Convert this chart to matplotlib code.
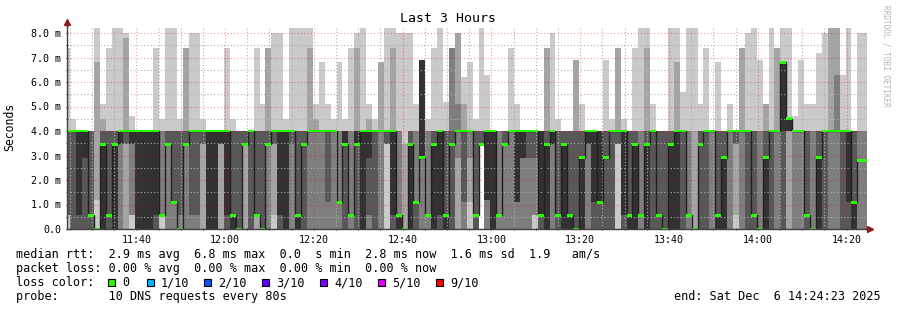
import numpy as np
import matplotlib
matplotlib.use('Agg')
import matplotlib.pyplot as plt
from matplotlib.patches import Rectangle
from matplotlib.ticker import FixedLocator

W, H = 897, 310

# one sample every 80 s, first one is cut by the left edge (11:24:23 start)
first_edge = 43
step = 80
span = 10800

# green median line (ms)
median = [
    4.0, 4.0, 4.0, 4.0, 0.57, 0, 3.45, 0.57, 3.45, 4.0,
    4.0, 4.0, 4.0, 4.0, 4.0, 4.0, 0.57, 3.45, 1.1, 0,
    3.45, 4.0, 4.0, 4.0, 4.0, 4.0, 4.0, 4.0, 0.57, 0,
    3.45, 4.0, 0.57, 0, 3.45, 4.0, 4.0, 4.0, 4.0, 0.57,
    3.45, 4.0, 4.0, 4.0, 4.0, 4.0, 1.1, 3.45, 0.57, 3.45,
    4.0, 4.0, 4.0, 4.0, 4.0, 4.0, 0.57, 0, 3.45, 1.1,
    2.9, 0.57, 3.45, 4.0, 0.57, 3.45, 4.0, 4.0, 4.0, 0.57,
    3.45, 4.0, 4.0, 0.57, 3.45, 4.0, 4.0, 4.0, 4.0, 4.0,
    0.57, 3.45, 4.0, 0.57, 3.45, 0.57, 0, 2.9, 4.0, 4.0,
    1.1, 2.9, 4.0, 4.0, 4.0, 0.57, 3.45, 0.57, 3.45, 4.0,
    0.57, 0, 3.45, 4.0, 4.0, 0.57, 0, 3.45, 4.0, 4.0,
    0.57, 2.9, 4.0, 4.0, 4.0, 4.0, 0.57, 0, 2.9, 4.0,
    4.0, 6.8, 4.5, 4.0, 4.0, 0.57, 0, 2.9, 4.0, 4.0,
    4.0, 4.0, 4.0, 1.1, 2.8, 2.8,
]

# 10 sorted ping times per sample (ms), used for the smoke
pings = [
    (0, .57, .57, .57, 4, 4, 4, 4, 4, 7.4),
    (0, 0, 0, 0, 4, 4, 4, 4, 4, 4.5),
    (0, 0, 0, 0, .57, 4, 4, 4, 4, 4),
    (0, 0, 0, 0, 2.9, 4, 4, 4, 4, 4),
    (0, 0, 0, 0, 4, 4, 4, 4, 4, 4),
    (0, 1.2, 6.8, 6.8, 6.8, 6.8, 6.8, 6.8, 6.8, 8.2),
    (0, 0, 0, 0, 0, 3.45, 4, 4, 4.5, 5.1),
    (0, 0, 0, 0, 4, 4, 4, 4, 4, 7.4),
    (0, 0, 0, 0, 0, 3.45, 4, 4, 4, 8.2),
    (0, 0, 0, 3.45, 3.45, 4, 4, 4, 4, 8.2),
    (0, 0, 3.45, 3.45, 4, 4, 4, 4, 7.8, 8.0),
    (0, .57, .57, 3.45, 3.45, 4, 4, 4, 4, 4.6),
    (0, 0, 0, 0, 0, 4, 4, 4, 4, 4),
    (0, 0, 0, 0, 0, 4, 4, 4, 4, 4),
    (0, 0, 0, 0, 0, 4, 4, 4, 4, 4),
    (0, 0, 0, 0, .57, 4, 4, 4, 4, 7.4),
    (0, .57, .57, 4, 4, 4, 4, 4, 4, 4.5),
    (0, 0, 0, 3.45, 4, 4, 4, 4, 4, 8.2),
    (0, 0, 0, 1.1, 4, 4, 4, 4, 4, 8.2),
    (0, 0, 0, .57, 4, 4, 4, 4, 4, 4.5),
    (0, 0, 0, 3.45, 4, 4, 4, 4, 7.4, 7.4),
    (0, 0, 0, .57, 4, 4, 4, 4, 4, 8.0),
    (0, 0, 0, .57, 4, 4, 4, 4, 4, 8.0),
    (0, 0, 3.45, 3.45, 4, 4, 4, 4, 4, 4.5),
    (0, 0, 0, 0, 0, 4, 4, 4, 4, 4),
    (0, 0, 0, 0, 0, 4, 4, 4, 4, 4),
    (0, 0, 3.45, 3.45, 3.45, 4, 4, 4, 4, 4),
    (0, 0, 0, 0, .57, 4, 4, 4, 4, 7.4),
    (0, 0, 0, 0, 0, .57, 4, 4, 4, 4.5),
    (0, 0, 0, 0, 4, 4, 4, 4, 4, 4),
    (0, 0, 3.45, 3.45, 4, 4, 4, 4, 4, 4),
    (0, 0, 0, 0, 4, 4, 4, 4, 4, 4),
    (0, 0, .57, .57, 4, 4, 4, 4, 4, 7.4),
    (0, 0, 0, 0, 4, 4, 4, 4, 4, 5.1),
    (0, 0, 0, 3.45, 4, 4, 4, 4, 7.4, 7.4),
    (0, .57, 3.45, 3.45, 4, 4, 4, 4, 4, 8.0),
    (0, 0, 0, 0, .57, 4, 4, 4, 4, 8.0),
    (0, 0, 0, 0, 0, 4, 4, 4, 4, 4.5),
    (0, 0, 0, 3.45, 4, 4, 4, 4, 4, 8.2),
    (0, 0, 0, 0, 0, .57, 4, 4, 4, 8.2),
    (0, 0, 0, 0, 3.45, 3.45, 4, 4, 4, 8.2),
    (0, 0, 0, 4, 4, 4, 4, 4, 7.4, 8.2),
    (0, 0, 0, 4, 4, 4, 4, 4, 4.5, 5.1),
    (0, 0, 0, 4, 4, 4, 4, 4, 4, 6.8),
    (0, 0, 0, 1.1, 4, 4, 4, 4, 4, 5.1),
    (0, 0, 0, 4, 4, 4, 4, 4, 4, 4.5),
    (0, 0, 0, 4, 4, 4, 4, 4, 4, 6.8),
    (0, 0, 0, 0, 3.45, 4, 4, 4, 4, 4.5),
    (0, 0, 0, 4, 4, 4, 4, 4, 4, 7.4),
    (0, 0, 0, 0, 3.45, 4, 4, 4, 7.4, 8.0),
    (0, 0, 0, 0, 0, 4, 4, 4, 4, 8.2),
    (0, 0, 0, .57, 2.9, 4, 4, 4, 4.5, 5.1),
    (0, 0, 0, 0, 4, 4, 4, 4, 4, 4.5),
    (0, 0, 0, 4, 4, 4, 4, 4, 6.8, 6.8),
    (0, 3.45, 3.45, 3.45, 4, 4, 4, 4, 4, 8.2),
    (0, 0, 0, 0, .57, 4, 4, 4, 7.4, 8.2),
    (0, 0, 0, 0, 0, .57, .57, 4, 4, 8.0),
    (0, 0, 0, 0, 0, 0, 0, 0, 3.45, 8.0),
    (0, 0, 0, 0, 0, 3.45, 4, 4, 4, 8.0),
    (0, 0, 0, 0, 1.1, 1.1, 1.1, 4, 4, 5.1),
    (0, 0, 0, 2.9, 2.9, 6.9, 6.9, 6.9, 6.9, 6.9),
    (0, 0, 0, .57, .57, .57, .57, 4, 4, 4.5),
    (0, 0, 0, 0, 0, 3.45, 4, 4, 4, 7.4),
    (0, 0, 0, 0, .57, 4, 4, 4, 4, 8.2),
    (0, 0, 0, 0, 0, .57, 4, 4, 4, 5.2),
    (0, 0, 0, 0, 3.45, 3.45, 4, 7.4, 7.4, 7.4),
    (0, 0, 2.9, 4, 4, 4, 4, 5.1, 8.0, 8.0),
    (0, 0, 0, 1.1, 4, 4, 4, 4, 5.1, 6.2),
    (0, 1.1, 2.9, 4, 4, 4, 4, 4, 4, 6.8),
    (0, 0, 0, 0, .57, .57, 4, 4, 4, 4.5),
    (3.45, 3.45, 3.45, 3.45, 3.45, 3.45, 4, 4, 4, 8.2),
    (0, 0, 0, 1.2, 1.2, 4, 4, 4, 4, 6.3),
    (0, 0, 0, 0, 0, 4, 4, 4, 4, 4),
    (0, 0, 0, .57, .57, .57, .57, 4, 4, 4),
    (0, 0, 0, 3.45, 3.45, 3.45, 4, 4, 4, 4),
    (0, 0, 0, 4, 4, 4, 4, 4, 4, 7.4),
    (0, 0, 0, 1.1, 1.1, 4, 4, 4, 4, 5.1),
    (0, 0, 0, 2.9, 2.9, 4, 4, 4, 4, 4),
    (0, 0, 0, 2.9, 4, 4, 4, 4, 4, 4),
    (0, .57, .57, 2.9, 4, 4, 4, 4, 4, 4),
    (0, 0, 0, 0, .57, 4, 4, 4, 4, 4),
    (0, 0, 0, 0, 0, 3.45, 4, 4, 7.4, 7.4),
    (0, 0, 0, 3.45, 3.45, 4, 4, 4, 4, 8.0),
    (0, 0, 0, 0, 4, 4, 4, 4, 4, 4.5),
    (0, 0, 0, 0, 0, 3.45, 4, 4, 4, 4),
    (0, 0, 0, 0, 0, .57, 4, 4, 4, 4),
    (0, 0, 0, 0, 4, 4, 4, 4, 6.9, 6.9),
    (0, 0, 0, 0, 0, 2.9, 4, 4, 4, 5.1),
    (0, 0, 0, 3.45, 3.45, 4, 4, 4, 4, 4),
    (0, 0, 0, 0, 1.1, 4, 4, 4, 4, 4),
    (0, 0, 0, 0, 1.1, 4, 4, 4, 4, 4),
    (0, 0, 0, 0, 2.9, 2.9, 4, 4, 4, 6.9),
    (0, 0, 0, 0, 4, 4, 4, 4, 4, 4.5),
    (0, 3.45, 3.45, 3.45, 4, 4, 4, 4, 7.4, 7.4),
    (0, 0, 0, 0, .57, 4, 4, 4, 4, 4.5),
    (0, 0, 0, 0, 0, .57, 4, 4, 4, 4),
    (0, 0, 0, 0, 0, 3.45, 4, 4, 4, 7.4),
    (0, 0, 0, .57, .57, .57, .57, 4, 4, 8.2),
    (0, 0, 0, 0, 0, 3.45, 4, 4, 7.4, 8.2),
    (0, 0, 0, 0, 4, 4, 4, 4, 4, 5.1),
    (0, 0, 0, 0, .57, .57, 4, 4, 4, 4),
    (0, 0, 0, 0, 0, 0, 4, 4, 4, 4),
    (0, 0, 0, 0, 0, 3.4, 4, 4, 4, 8.2),
    (0, 0, 0, 0, 0, 4, 4, 4, 6.8, 8.2),
    (0, 0, 0, 0, 4, 4, 4, 4, 4, 5.6),
    (0, 0, 0, .57, .57, .57, .57, 4, 4, 8.2),
    (0, 0, 0, 0, 0, 0, 0, 0, 4, 8.2),
    (0, 0, 0, 0, 3.45, 3.45, 4, 4, 4, 5.1),
    (0, 0, 0, 0, 4, 4, 4, 4, 4, 7.4),
    (0, 0, 0, 4, 4, 4, 4, 4, 4, 4),
    (0, 0, 0, 0, 0, .57, 4, 4, 4, 6.8),
    (0, 0, 0, 0, 0, 2.9, 4, 4, 4, 4),
    (0, 0, 0, 4, 4, 4, 4, 4, 4, 5.1),
    (0, .57, 3.45, 3.45, 4, 4, 4, 4, 4, 4),
    (0, 0, 0, 4, 4, 4, 4, 4, 7.4, 7.4),
    (0, 0, 0, 0, 4, 4, 4, 4, 4, 8.0),
    (0, 0, 0, 0, .57, .57, 4, 4, 4, 8.2),
    (0, 0, 0, 0, 0, 0, 0, 4, 4, 6.9),
    (0, 0, 0, 0, 0, 2.9, 4, 4, 5.1, 5.1),
    (0, 0, 0, 0, 4, 4, 4, 4, 4, 8.2),
    (0, 0, 0, 4, 4, 4, 4, 4, 7.4, 7.4),
    (0, 0, 0, 0, 4, 6.8, 6.8, 6.8, 6.8, 8.2),
    (0, 0, 4, 4, 4, 4.5, 4.5, 4.5, 4.5, 8.2),
    (0, 0, 0, 4, 4, 4, 4, 4, 4, 4.6),
    (0, 0, 0, 4, 4, 4, 4, 4, 4, 6.9),
    (0, 0, 0, 0, .57, .57, 4, 4, 4, 5.1),
    (0, 0, 0, 0, 0, 0, 0, 4, 4, 5.1),
    (0, 0, 0, 0, 0, 2.9, 4, 4, 4, 7.2),
    (0, 0, 0, 0, 4, 4, 4, 4, 4, 8.0),
    (0, 0, 0, 4, 4, 4, 4, 4, 8.2, 8.2),
    (0, 0, 0, 4, 4, 4, 4, 6.3, 8.2, 8.2),
    (0, 0, 0, 0, 4, 4, 4, 4, 4, 6.3),
    (0, 0, 0, 0, 1.1, 4, 4, 4, 4, 8.2),
    (0, 0, 0, 0, 0, 1.1, 4, 4, 4, 4),
    (0, 0, 0, 2.8, 2.8, 2.8, 2.8, 4, 4, 8.0),
    (0, 0, 0, 2.8, 2.8, 2.8, 2.8, 4, 4, 8.0),
]

tick_labels = ['11:40', '12:00', '12:20', '12:40', '13:00',
               '13:20', '13:40', '14:00', '14:20']
first_tick = 937  # seconds from start to 11:40:00
y_labels = ['0.0', '1.0 m', '2.0 m', '3.0 m', '4.0 m',
            '5.0 m', '6.0 m', '7.0 m', '8.0 m']

loss_names = ['0', '1/10', '2/10', '3/10', '4/10', '5/10', '9/10']
loss_colors = ['#26ff00', '#00b8ff', '#0059ff', '#5e00ff',
               '#7e00ff', '#dd00ff', '#ff0000']
smoke_colors = ['#cacaca', '#a4a4a4', '#7e7e7e', '#585858', '#323232']

mono = 'DejaVu Sans Mono'
plt.rcParams['font.family'] = mono

fig = plt.figure(figsize=(W / 100, H / 100), dpi=100)
fig.patch.set_facecolor('white')

x0, x1 = 67, 866
ybot, ytop = 229, 25.6
ax = fig.add_axes([x0 / W, (H - ybot) / H, (x1 - x0) / W, (ybot - ytop) / H])
ax.set_facecolor('white')
ymax = (ybot - ytop) / 24.5

edges = np.concatenate([[0], first_edge + step * np.arange(len(median))])
p = np.array(pings, dtype=float)
med = np.array(median, dtype=float)

def stepfill(lo, hi, color):
    ax.fill_between(edges, np.append(lo, lo[-1]), np.append(hi, hi[-1]),
                    step='post', color=color, lw=0, antialiased=False, zorder=1)

# smoke: outer pair lightest, inner pair darkest
for i, c in enumerate(smoke_colors):
    stepfill(p[:, i], p[:, 9 - i], c)

# median line + green loss bars
ax.stairs(med, edges, color='#202020', lw=1.0, zorder=3, baseline=None)
stepfill(med - 0.06, med + 0.06, loss_colors[0])
for coll in ax.collections[-1:]:
    coll.set_zorder(4)

ax.set_xlim(0, span)
ax.set_ylim(0, ymax)

majors = [first_tick + 1200 * k for k in range(len(tick_labels))]
minors = list(range(first_tick % 300, span, 300))
ax.xaxis.set_major_locator(FixedLocator(majors))
ax.xaxis.set_minor_locator(FixedLocator(minors))
ax.set_xticklabels(tick_labels)
ax.yaxis.set_major_locator(FixedLocator(range(len(y_labels))))
ax.yaxis.set_minor_locator(FixedLocator(np.arange(0.5, ymax, 1.0)))
ax.set_yticklabels(y_labels)

ax.set_axisbelow(False)
ax.grid(which='minor', color='#b0b0b0', lw=0.8, linestyle=(0, (1, 2)), zorder=5)
ax.grid(which='major', color='#ff0000', alpha=0.4, lw=0.8, linestyle=(0, (1, 2)), zorder=5)

ax.tick_params(which='both', length=2, width=0.8, color='#404040',
               direction='inout', labelsize=7.2, pad=3)
for s in ['top', 'right']:
    ax.spines[s].set_visible(False)
for s in ['left', 'bottom']:
    ax.spines[s].set_color('#404040')
    ax.spines[s].set_linewidth(1.0)
    ax.spines[s].set_zorder(6)

# axis arrows
ax.plot([0, 0], [ymax, 8.42], color='#404040', lw=1, clip_on=False, zorder=6)
ax.plot([0], [8.45], marker='^', ms=4, color='#8b1a1a', clip_on=False, zorder=7)
ax.plot([span, 10855], [0, 0], color='#404040', lw=1, clip_on=False, zorder=6)
ax.plot([10860], [0], marker='>', ms=4, color='#8b1a1a', clip_on=False, zorder=7)

def ftext(x, y, s, **kw):
    fig.text(x / W, 1 - y / H, s, family=mono, **kw)

ftext(448, 19, 'Last 3 Hours', fontsize=9.5, ha='center', va='center')
ftext(10, 127, 'Seconds', fontsize=8.3, rotation=90, ha='center', va='center')
ftext(886, 5, 'RRDTOOL / TOBI OETIKER', fontsize=5.6, rotation=270,
      ha='center', va='top', color='#b4b4b4')

fs = 8.5
ftext(16, 254.5, 'median rtt:  2.9 ms avg  6.8 ms max  0.0  s min  2.8 ms now  1.6 ms sd  1.9   am/s',
      fontsize=fs, va='center')
ftext(16, 268.5, 'packet loss: 0.00 % avg  0.00 % max  0.00 % min  0.00 % now',
      fontsize=fs, va='center')
ftext(16, 282.5, 'loss color:', fontsize=fs, va='center')
sw_x = [108, 147, 204, 262, 320, 378, 436]
for sx, name, col in zip(sw_x, loss_names, loss_colors):
    fig.add_artist(Rectangle((sx / W, 1 - 286 / H), 7 / W, 7 / H,
                             transform=fig.transFigure, facecolor=col,
                             edgecolor='black', lw=0.8))
    ftext(sx + 14, 282.5, name, fontsize=fs, va='center')
ftext(16, 296.5, 'probe:       10 DNS requests every 80s', fontsize=fs, va='center')
ftext(881, 296.5, 'end: Sat Dec  6 14:24:23 2025', fontsize=fs, va='center', ha='right')

fig.savefig('out.png', dpi=100, facecolor='white')
